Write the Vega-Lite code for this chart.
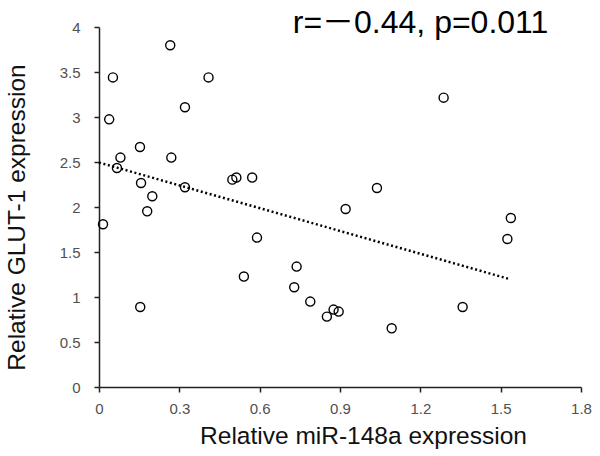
{
  "$schema": "https://vega.github.io/schema/vega-lite/v6.json",
  "autosize": "none",
  "width": 482,
  "height": 360,
  "padding": {"left": 99, "top": 27, "right": 19, "bottom": 69},
  "background": "white",
  "config": {
    "font": "Liberation Sans",
    "view": {"stroke": null},
    "axis": {
      "grid": false,
      "domainColor": "#222222",
      "domainWidth": 1.5,
      "tickColor": "#222222",
      "tickWidth": 1.5,
      "tickSize": 5,
      "labelFont": "Liberation Sans",
      "labelFontSize": 15,
      "labelColor": "#505050",
      "titleFont": "Liberation Sans",
      "titleFontSize": 24.5,
      "titleFontWeight": "normal",
      "titleColor": "#111111"
    }
  },
  "datasets": {
    "points": [
      {"mir": 0.266, "glut": 3.797},
      {"mir": 0.052, "glut": 3.44},
      {"mir": 0.409, "glut": 3.44},
      {"mir": 0.321, "glut": 3.108},
      {"mir": 0.038, "glut": 2.974},
      {"mir": 0.153, "glut": 2.667},
      {"mir": 0.08, "glut": 2.549},
      {"mir": 0.27, "glut": 2.549},
      {"mir": 0.067, "glut": 2.433},
      {"mir": 0.157, "glut": 2.267},
      {"mir": 0.321, "glut": 2.219},
      {"mir": 0.498, "glut": 2.304},
      {"mir": 0.513, "glut": 2.327},
      {"mir": 0.572, "glut": 2.327},
      {"mir": 0.199, "glut": 2.119},
      {"mir": 0.18, "glut": 1.952},
      {"mir": 0.015, "glut": 1.808},
      {"mir": 0.59, "glut": 1.66},
      {"mir": 0.541, "glut": 1.227},
      {"mir": 0.738, "glut": 1.338},
      {"mir": 0.729, "glut": 1.108},
      {"mir": 0.154, "glut": 0.889},
      {"mir": 0.789, "glut": 0.949},
      {"mir": 0.851, "glut": 0.782},
      {"mir": 0.876, "glut": 0.86},
      {"mir": 0.895, "glut": 0.838},
      {"mir": 1.038, "glut": 2.211},
      {"mir": 0.921, "glut": 1.978},
      {"mir": 1.538, "glut": 1.878},
      {"mir": 1.525, "glut": 1.644},
      {"mir": 1.358, "glut": 0.889},
      {"mir": 1.093, "glut": 0.652},
      {"mir": 1.287, "glut": 3.215}
    ],
    "fit": [
      {"mir": 0, "glut": 2.494},
      {"mir": 1.532, "glut": 1.2}
    ],
    "stat": [
      {"mir": 1.678, "glut": 3.93, "label": "r=－0.44, p=0.011"}
    ]
  },
  "layer": [
    {
      "data": {"name": "fit"},
      "mark": {"type": "line", "color": "black", "strokeWidth": 2.5, "strokeDash": [2, 2.6]},
      "encoding": {
        "x": {"field": "mir", "type": "quantitative"},
        "y": {"field": "glut", "type": "quantitative"}
      }
    },
    {
      "data": {"name": "points"},
      "mark": {"type": "point", "shape": "circle", "filled": false, "color": "black", "size": 82, "strokeWidth": 1.4, "opacity": 1},
      "encoding": {
        "x": {
          "field": "mir", "type": "quantitative",
          "scale": {"domain": [0, 1.8], "nice": false, "zero": true},
          "axis": {"values": [0, 0.3, 0.6, 0.9, 1.2, 1.5, 1.8], "format": ".1~f", "labelPadding": 9, "title": "Relative miR-148a expression", "titlePadding": 8, "titleX": 264, "labelFlush": false}
        },
        "y": {
          "field": "glut", "type": "quantitative",
          "scale": {"domain": [0, 4], "nice": false},
          "axis": {"values": [0, 0.5, 1, 1.5, 2, 2.5, 3, 3.5, 4], "format": "~g", "labelPadding": 14, "title": "Relative GLUT-1 expression", "titlePadding": 30, "titleY": 190, "labelFlush": false}
        }
      }
    },
    {
      "data": {"name": "stat"},
      "mark": {"type": "text", "align": "right", "baseline": "alphabetic", "fontSize": 32, "font": "Liberation Sans, Noto Sans CJK SC", "color": "black"},
      "encoding": {
        "x": {"field": "mir", "type": "quantitative"},
        "y": {"field": "glut", "type": "quantitative"},
        "text": {"field": "label", "type": "nominal"}
      }
    }
  ]
}
